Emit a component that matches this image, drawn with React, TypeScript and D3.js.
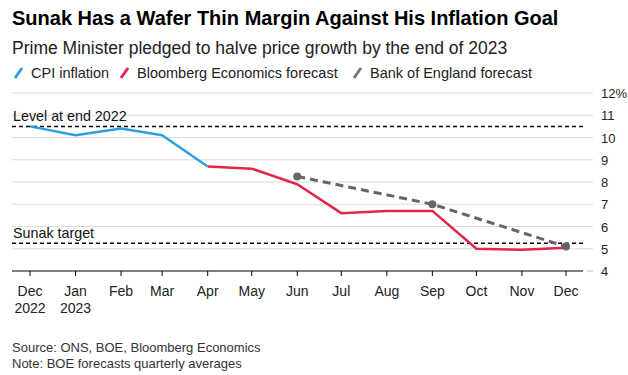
import React from "react";
import * as d3 from "d3";

const months = ["2022-12-01","2023-01-01","2023-02-01","2023-03-01","2023-04-01","2023-05-01","2023-06-01","2023-07-01","2023-08-01","2023-09-01","2023-10-01","2023-11-01","2023-12-01"];
const monthLabels = ["Dec","Jan","Feb","Mar","Apr","May","Jun","Jul","Aug","Sep","Oct","Nov","Dec"];
const yearLabels = ["2022","2023","","","","","","","","","","",""];

const cpiDates = ["2022-12-01","2023-01-01","2023-02-01","2023-03-01","2023-04-01"];
const cpiValues = [10.5, 10.1, 10.4, 10.1, 8.7];

const beDates = ["2023-04-01","2023-05-01","2023-06-01","2023-07-01","2023-08-01","2023-09-01","2023-10-01","2023-11-01","2023-12-01"];
const beValues = [8.7, 8.6, 7.9, 6.6, 6.7, 6.7, 5.0, 4.95, 5.05];

const boeDates = ["2023-06-01","2023-09-01","2023-12-01"];
const boeValues = [8.25, 7.0, 5.1];

const yTicks = [4,5,6,7,8,9,10,11,12];
const levelEnd2022 = 10.5;
const sunakTarget = 5.25;

const legendItems = [
  { label: "CPI inflation", color: "#2e9ee3" },
  { label: "Bloomberg Economics forecast", color: "#e2254d" },
  { label: "Bank of England forecast", color: "#777777" },
];

const parse = d3.timeParse("%Y-%m-%d");

export default function App() {
  const W = 628, H = 375;
  const x = d3.scaleTime().domain([parse(months[0])!, parse(months[months.length-1])!]).range([30, 566]);
  const y = d3.scaleLinear().domain([4, 12]).range([271, 93]);
  const line = d3.line<[string, number]>().x(d => x(parse(d[0])!)).y(d => y(d[1]));
  const cpi = cpiDates.map((d, i) => [d, cpiValues[i]] as [string, number]);
  const be = beDates.map((d, i) => [d, beValues[i]] as [string, number]);
  const boe = boeDates.map((d, i) => [d, boeValues[i]] as [string, number]);
  const font = "'Liberation Sans', Arial, sans-serif";
  const legendX = [15, 121, 354];

  return (
    <svg width={W} height={H} style={{ position: "absolute", left: 0, top: 0, background: "#fff" }} fontFamily={font}>
      <text x={12} y={25} fontSize={20} fontWeight="bold" fill="#000">Sunak Has a Wafer Thin Margin Against His Inflation Goal</text>
      <text x={12} y={54} fontSize={17.5} fill="#222">Prime Minister pledged to halve price growth by the end of 2023</text>
      {legendItems.map((it, i) => (
        <g key={it.label} transform={`translate(${legendX[i]},0)`}>
          <line x1={0} y1={78} x2={7} y2={68} stroke={it.color} strokeWidth={3} />
          <text x={16} y={78} fontSize={14.5} fill="#222">{it.label}</text>
        </g>
      ))}
      {yTicks.map(t => (
        <g key={t}>
          {t !== 4 && <line x1={12} x2={593} y1={y(t)} y2={y(t)} stroke="#dcdcdc" strokeWidth={1.2} />}
          {t === 4 && <line x1={587} x2={593} y1={y(t)} y2={y(t)} stroke="#cccccc" strokeWidth={1.2} />}
          <text x={601} y={y(t) + 5} fontSize={13} fill="#222">{t === 12 ? "12%" : t}</text>
        </g>
      ))}
      <line x1={12} x2={583} y1={y(4)} y2={y(4)} stroke="#000" strokeWidth={1} />
      {months.map((m, i) => {
        const xp = x(parse(m)!);
        return (
          <g key={m}>
            <line x1={xp} x2={xp} y1={y(4)} y2={y(4) + 5} stroke="#000" strokeWidth={1} />
            <text x={xp} y={296} fontSize={14} textAnchor="middle" fill="#222">{monthLabels[i]}</text>
            {yearLabels[i] && <text x={xp} y={313} fontSize={14} textAnchor="middle" fill="#222">{yearLabels[i]}</text>}
          </g>
        );
      })}
      <line x1={12} x2={583} y1={y(levelEnd2022)} y2={y(levelEnd2022)} stroke="#000" strokeWidth={1.5} strokeDasharray="4,3" />
      <text x={13} y={y(levelEnd2022) - 5} fontSize={14.3} fill="#111">Level at end 2022</text>
      <line x1={12} x2={583} y1={y(sunakTarget)} y2={y(sunakTarget)} stroke="#000" strokeWidth={1.5} strokeDasharray="4,3" />
      <text x={13} y={y(sunakTarget) - 5} fontSize={14.3} fill="#111">Sunak target</text>
      <path d={line(be)!} fill="none" stroke="#e2254d" strokeWidth={2.5} strokeLinejoin="round" />
      <path d={line(cpi)!} fill="none" stroke="#2e9ee3" strokeWidth={2.5} strokeLinejoin="round" />
      <path d={line(boe)!} fill="none" stroke="#666666" strokeWidth={3} strokeDasharray="8,5" />
      {boe.map(d => (
        <circle key={d[0]} cx={x(parse(d[0])!)} cy={y(d[1])} r={4} fill="#666666" />
      ))}
      <text x={12} y={352} fontSize={13} fill="#333">Source: ONS, BOE, Bloomberg Economics</text>
      <text x={12} y={368} fontSize={13} fill="#333">Note: BOE forecasts quarterly averages</text>
    </svg>
  );
}
